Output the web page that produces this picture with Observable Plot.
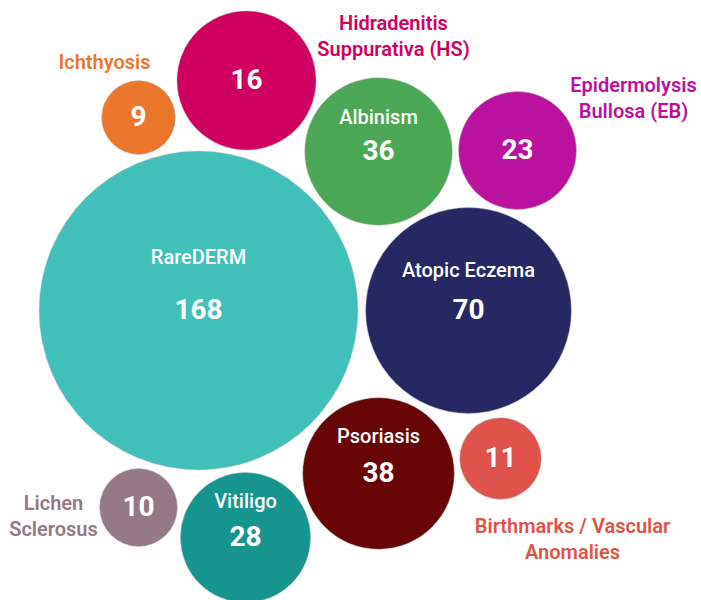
<!DOCTYPE html>
<html>
<head>
<meta charset="utf-8">
<script src="https://cdn.jsdelivr.net/npm/d3@7"></script>
<script src="https://cdn.jsdelivr.net/npm/@observablehq/plot@0.6"></script>
<style>
  html, body { margin: 0; padding: 0; background: #fff; }
  #chart svg { display: block; font-family: Roboto, "Noto Sans", sans-serif; }
</style>
</head>
<body>
<div id="chart"></div>
<script>
// Categories and counts
const names = ["RareDERM", "Atopic Eczema", "Psoriasis", "Albinism", "Vitiligo",
  "Epidermolysis\nBullosa (EB)", "Hidradenitis\nSuppurativa (HS)", "Birthmarks / Vascular\nAnomalies",
  "Lichen\nSclerosus", "Ichthyosis"];
const values = [168, 70, 38, 36, 28, 23, 16, 11, 10, 9];
// bubble area as drawn in the picture (HS bubble is drawn larger than its count)
const bubbleValues = [168, 70, 38, 36, 28, 23, 32, 11, 10, 9];
// bubble centres (layout units, 0..701 by 0..600)
const cx = [198, 468, 378, 378, 245, 517, 246, 500, 138, 138];
const cy = [310, 310, 473, 151, 537, 150, 80, 458, 507, 117];
// name inside bubble (true) or outside (false)
const inside = [true, true, true, true, true, false, false, false, false, false];
// gap of the inside name above the centre
const nameGap = [53, 40, 37, 34, 36, 0, 0, 0, 0, 0];
// outside label anchor
const labelX = [0, 0, 0, 0, 0, 633, 393, 572, 53, 104];
const labelY = [0, 0, 0, 0, 0, 96, 34, 537, 514, 60];
const colors = ["#40bfbb", "#252862", "#680505", "#4ca754", "#159490",
  "#ba119f", "#cf0060", "#e0534a", "#967785", "#ec772c"];

const data = names.map((n, i) => ({
  name: n, value: values[i], size: bubbleValues[i], cx: cx[i], cy: cy[i],
  inside: inside[i], nameY: cy[i] - nameGap[i], lx: labelX[i], ly: labelY[i], color: colors[i]
}));
const inner = data.filter(d => d.inside);
const outer = data.filter(d => !d.inside);

const chart = Plot.plot({
  width: 701,
  height: 600,
  margin: 0,
  x: {domain: [0, 701], range: [0, 701], axis: null},
  y: {domain: [0, 600], range: [0, 600], axis: null},
  r: {type: "sqrt", domain: [0, 168], range: [0, 159.4]},
  color: {type: "identity"},
  marks: [
    Plot.dot(data, {x: "cx", y: "cy", r: "size", fill: "color", stroke: "#bbbbbb", strokeWidth: 0.8, strokeOpacity: 0.6}),
    Plot.text(data, {x: "cx", y: "cy", text: d => String(d.value), fill: "white",
      fontSize: 28, fontWeight: 700, lineAnchor: "middle"}),
    Plot.text(inner, {x: "cx", y: "nameY", text: "name", fill: "white",
      fontSize: 20, fontWeight: 500, lineAnchor: "middle"}),
    Plot.text(outer, {x: "lx", y: "ly", text: "name", fill: "color",
      fontSize: 20, fontWeight: 600, lineAnchor: "middle", lineHeight: 1.3})
  ]
});
document.getElementById("chart").appendChild(chart);
</script>
</body>
</html>
